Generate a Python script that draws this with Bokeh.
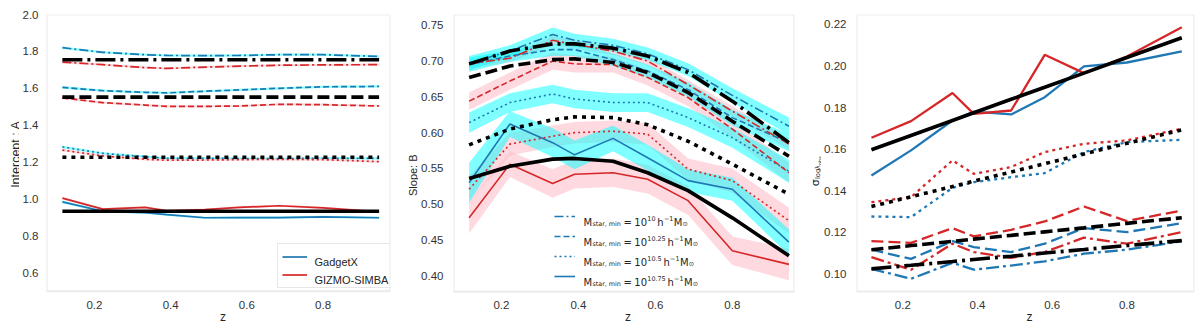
import math
from bokeh.plotting import figure
from bokeh.models import Range1d, FixedTicker, Label, Legend, LegendItem, NumeralTickFormatter, BoxAnnotation
from bokeh.layouts import row
from bokeh.embed import file_html
from bokeh.resources import INLINE

# ---------------- data ----------------
z = [0.116, 0.222, 0.333, 0.390, 0.490, 0.580, 0.685, 0.800, 0.947]

# Panel 1: intercept A
A_gx_10 = [1.820, 1.795, 1.782, 1.778, 1.777, 1.778, 1.782, 1.782, 1.773]
A_gs_10 = [1.742, 1.728, 1.712, 1.708, 1.715, 1.720, 1.725, 1.727, 1.728]
A_fit_10 = [1.755, 1.755, 1.755, 1.755, 1.755, 1.755, 1.755, 1.755, 1.755]
A_gx_1025 = [1.605, 1.587, 1.578, 1.575, 1.584, 1.591, 1.600, 1.608, 1.610]
A_gs_1025 = [1.548, 1.522, 1.509, 1.502, 1.502, 1.504, 1.513, 1.511, 1.504]
A_fit_1025 = [1.552, 1.552, 1.552, 1.552, 1.552, 1.552, 1.552, 1.552, 1.552]
A_gx_105 = [1.282, 1.247, 1.229, 1.220, 1.220, 1.219, 1.219, 1.220, 1.220]
A_gs_105 = [1.265, 1.233, 1.215, 1.210, 1.211, 1.213, 1.215, 1.213, 1.202]
A_fit_105 = [1.226, 1.226, 1.226, 1.226, 1.226, 1.226, 1.226, 1.226, 1.226]
A_gx_1075 = [0.984, 0.933, 0.926, 0.915, 0.898, 0.899, 0.899, 0.903, 0.898]
A_gs_1075 = [1.004, 0.945, 0.954, 0.936, 0.942, 0.954, 0.963, 0.951, 0.930]
A_fit_1075 = [0.933, 0.933, 0.933, 0.933, 0.933, 0.933, 0.933, 0.933, 0.933]
A_err = [0.007, 0.006, 0.006, 0.006, 0.006, 0.006, 0.006, 0.006, 0.006]

# Panel 2: slope B
B_gx_10 = [0.697, 0.714, 0.737, 0.729, 0.722, 0.710, 0.688, 0.652, 0.609]
B_gs_10 = [0.696, 0.704, 0.729, 0.723, 0.714, 0.700, 0.667, 0.630, 0.584]
B_fit_10 = [0.696, 0.714, 0.724, 0.724, 0.718, 0.707, 0.684, 0.644, 0.586]
B_gx_1025 = [0.695, 0.707, 0.716, 0.716, 0.702, 0.686, 0.660, 0.621, 0.586]
B_gs_1025 = [0.644, 0.672, 0.700, 0.696, 0.695, 0.677, 0.649, 0.605, 0.544]
B_fit_1025 = [0.677, 0.693, 0.702, 0.703, 0.698, 0.684, 0.656, 0.616, 0.567]
B_gx_105 = [0.614, 0.642, 0.654, 0.647, 0.642, 0.642, 0.621, 0.593, 0.546]
B_gs_105 = [0.521, 0.584, 0.595, 0.600, 0.602, 0.598, 0.549, 0.533, 0.477]
B_fit_105 = [0.583, 0.605, 0.618, 0.622, 0.621, 0.611, 0.588, 0.556, 0.514]
B_gx_1075 = [0.530, 0.612, 0.586, 0.569, 0.592, 0.565, 0.533, 0.521, 0.447]
B_gs_1075 = [0.481, 0.556, 0.529, 0.542, 0.544, 0.535, 0.505, 0.435, 0.416]
B_fit_1075 = [0.536, 0.553, 0.563, 0.564, 0.560, 0.544, 0.519, 0.481, 0.428]

Be_gx_10 = [0.010, 0.008, 0.010, 0.009, 0.009, 0.009, 0.009, 0.010, 0.012]
Be_gs_10 = [0.006, 0.006, 0.006, 0.006, 0.006, 0.006, 0.006, 0.007, 0.008]
Be_gx_1025 = [0.010, 0.008, 0.009, 0.009, 0.009, 0.009, 0.010, 0.011, 0.012]
Be_gs_1025 = [0.012, 0.012, 0.012, 0.012, 0.011, 0.011, 0.012, 0.013, 0.014]
Be_gx_105 = [0.014, 0.013, 0.013, 0.013, 0.013, 0.013, 0.013, 0.014, 0.016]
Be_gs_105 = [0.018, 0.016, 0.015, 0.015, 0.015, 0.015, 0.015, 0.017, 0.018]
Be_gx_1075 = [0.028, 0.018, 0.020, 0.020, 0.018, 0.018, 0.016, 0.016, 0.018]
Be_gs_1075 = [0.022, 0.018, 0.020, 0.020, 0.020, 0.020, 0.020, 0.020, 0.022]

# Panel 3: scatter sigma
S_gx_10 = [0.1024, 0.0976, 0.1053, 0.1020, 0.1040, 0.1060, 0.1097, 0.1116, 0.1157]
S_gs_10 = [0.1080, 0.1020, 0.1145, 0.1105, 0.1077, 0.1105, 0.1174, 0.1145, 0.1201]
S_fit_10 = [0.1024, 0.1041, 0.1059, 0.1069, 0.1085, 0.1100, 0.1117, 0.1136, 0.1160]
S_gx_1025 = [0.1116, 0.1072, 0.1157, 0.1129, 0.1105, 0.1145, 0.1220, 0.1201, 0.1244]
S_gs_1025 = [0.1157, 0.1149, 0.1220, 0.1180, 0.1212, 0.1252, 0.1324, 0.1254, 0.1305]
S_fit_1025 = [0.1116, 0.1136, 0.1156, 0.1167, 0.1185, 0.1202, 0.1221, 0.1243, 0.1270]
S_gx_105 = [0.1276, 0.1273, 0.1414, 0.1441, 0.1465, 0.1485, 0.1586, 0.1634, 0.1645]
S_gs_105 = [0.1345, 0.1369, 0.1546, 0.1481, 0.1514, 0.1586, 0.1626, 0.1642, 0.1698]
S_fit_105 = [0.1324, 0.1371, 0.1420, 0.1446, 0.1490, 0.1530, 0.1577, 0.1628, 0.1693]
S_gx_1075 = [0.1473, 0.1594, 0.1738, 0.1781, 0.1767, 0.1850, 0.1998, 0.2017, 0.2070]
S_gs_1075 = [0.1655, 0.1735, 0.1870, 0.1770, 0.1786, 0.2054, 0.1966, 0.2046, 0.2187]
S_fit_1075 = [0.1597, 0.1666, 0.1738, 0.1775, 0.1840, 0.1898, 0.1966, 0.2041, 0.2136]

x_ticks = [0.2, 0.4, 0.6, 0.8]
A_ticks = [0.6, 0.8, 1.0, 1.2, 1.4, 1.6, 1.8, 2.0]
B_ticks = [0.40, 0.45, 0.50, 0.55, 0.60, 0.65, 0.70, 0.75]
S_ticks = [0.10, 0.12, 0.14, 0.16, 0.18, 0.20, 0.22]
mass_exps = ["10", "10.25", "10.5", "10.75"]
sim_names = ["GadgetX", "GIZMO-SIMBA"]

# ---------------- styles ----------------
BLUE = "#1f77b4"
RED = "#d62728"
TXT = "#262626"
H = 323
TICK_FONT = "Liberation Sans"
FRAME_C = "#c0c0c0"

def mlabel(p, x, y, text, size, font="DejaVu Sans", angle=0.0, align="left",
           baseline="alphabetic", color=TXT, xu="screen", yu="screen"):
    p.add_layout(Label(x=x, y=y, x_units=xu, y_units=yu, text=text,
                       text_font=font, text_font_size=f"{size}px", text_color=color,
                       text_align=align, text_baseline=baseline, angle=angle))

def make_fig(width, bl, br, bt, xr, yr, yticks, yfmt, data_px, standoff=4):
    # frame reaches the canvas bottom; the data box spans data_px pixels below the top border
    extra = H - bt - data_px
    y0 = yr[0] - extra * (yr[1] - yr[0]) / data_px
    p = figure(width=width, height=H, x_range=Range1d(*xr), y_range=Range1d(y0, yr[1]),
               output_backend="svg", toolbar_location=None, x_axis_type=None,
               min_border_left=bl, min_border_right=br, min_border_top=bt, min_border_bottom=0)
    p.outline_line_color = None
    p.grid.visible = False
    ax = p.yaxis[0]
    ax.axis_line_color = None
    ax.major_tick_line_color = None
    ax.minor_tick_line_color = None
    ax.major_label_text_font = TICK_FONT
    ax.major_label_text_font_size = "11.5px"
    ax.major_label_text_color = "#333333"
    ax.major_label_standoff = standoff
    ax.ticker = FixedTicker(ticks=yticks)
    ax.formatter = NumeralTickFormatter(format=yfmt)
    p.add_layout(BoxAnnotation(left=xr[0], right=xr[1], bottom=yr[0], top=yr[1],
                               fill_alpha=0, line_color=FRAME_C, line_width=2.2))
    for t in x_ticks:
        mlabel(p, t, 19, f"{t:.1f}", 11.5, font=TICK_FONT, align="center",
               color="#333333", xu="data")
    frame_w = width - bl - br
    mlabel(p, frame_w / 2, 7, "z", 12, font=TICK_FONT, align="center")
    return p

def strip(width, height):
    s = figure(width=width, height=height, x_range=Range1d(0, width), y_range=Range1d(0, height),
               output_backend="svg", toolbar_location=None, x_axis_type=None, y_axis_type=None,
               min_border=0)
    s.outline_line_color = None
    s.grid.visible = False
    return s

def band(p, y, e, color, alpha):
    lo = [a - b for a, b in zip(y, e)]
    hi = [a + b for a, b in zip(y, e)]
    p.varea(x=z, y1=lo, y2=hi, fill_color=color, fill_alpha=alpha)

EMW = {'M': .863, 's': .521, 't': .392, 'a': .613, 'r': .411, ',': .318, ' ': .318,
       'm': .974, 'i': .278, 'n': .634, '=': .838, '.': .318, 'h': .634, '−': .838,
       '⊙': .838, 'l': .278, 'o': .612, 'g': .635, 'λ': .592, 'b': .635, 'σ': .635}

def tw(s, size):
    return sum(EMW.get(c, .636) for c in s) * size

def composite(p, x0, y0, pieces, rotated=False, units="screen"):
    cur = 0.0
    for text, size, shift, gap in pieces:
        cur += gap
        if rotated:
            mlabel(p, x0 - shift, y0 + cur, text, size, angle=math.pi / 2, xu=units, yu=units)
        else:
            mlabel(p, x0 + cur, y0 + shift, text, size, xu=units, yu=units)
        cur += tw(text, size)
    return cur

# dash patterns
DD_C, DA_C, DO_C = "9 3 2 3", "6 3", "2 3"
DD_K, DA_K, DO_K = "20 5 3 5", "12 5", "4 5"
DD_C3, DA_C3, DO_C3 = "13 4 3 4", "12 5", "3 4"

# ---------------- panel 1 ----------------
p1 = make_fig(377, 18, 6, 8, (0.0743, 0.9769), (0.5, 2.0001), A_ticks, "0.0", 282, standoff=2)
for ys in [A_gx_10, A_gx_1025, A_gx_105, A_gx_1075]:
    band(p1, ys, A_err, "cyan", 0.45)
for ys in [A_gs_10, A_gs_1025, A_gs_105, A_gs_1075]:
    band(p1, ys, A_err, "pink", 0.6)
leg1_r = []
for ys, dash in [(A_gx_10, DD_C), (A_gx_1025, DA_C), (A_gx_105, DO_C), (A_gx_1075, "solid")]:
    r = p1.line(z, ys, line_color=BLUE, line_width=1.7, line_dash=dash)
leg1_r.append(r)
for ys, dash in [(A_gs_10, DD_C), (A_gs_1025, DA_C), (A_gs_105, DO_C), (A_gs_1075, "solid")]:
    r = p1.line(z, ys, line_color=RED, line_width=1.7, line_dash=dash)
leg1_r.append(r)
for ys, dash in [(A_fit_10, DD_K), (A_fit_1025, DA_K), (A_fit_105, DO_K), (A_fit_1075, "solid")]:
    p1.line(z, ys, line_color="black", line_width=3.6, line_dash=dash)

leg1 = Legend(items=[LegendItem(label=" ", renderers=[r]) for r in leg1_r],
              location=(231, 35), padding=4, spacing=1, glyph_width=25, glyph_height=17,
              label_height=17, label_width=86, label_standoff=0, margin=0,
              label_text_font_size="1px",
              border_line_color="#d0d0d0", border_line_width=1,
              background_fill_alpha=0)
p1.add_layout(leg1)
for name, yc in zip(sim_names, [65.5, 47.5]):
    mlabel(p1, 268, yc - 4, name, 11, font=TICK_FONT)

# ---------------- panel 2 ----------------
p2 = make_fig(380, 27, 4, 13, (0.0754, 0.9615), (0.378, 0.765), B_ticks, "0.00", 278)
for ys, e in [(B_gs_10, Be_gs_10), (B_gs_1025, Be_gs_1025), (B_gs_105, Be_gs_105), (B_gs_1075, Be_gs_1075)]:
    band(p2, ys, e, "pink", 0.6)
for ys, e in [(B_gx_10, Be_gx_10), (B_gx_1025, Be_gx_1025), (B_gx_105, Be_gx_105), (B_gx_1075, Be_gx_1075)]:
    band(p2, ys, e, "cyan", 0.5)
leg_r = []
for ys, dash in [(B_gx_10, DD_C), (B_gx_1025, DA_C), (B_gx_105, DO_C), (B_gx_1075, "solid")]:
    leg_r.append(p2.line(z, ys, line_color=BLUE, line_width=1.6, line_dash=dash))
for ys, dash in [(B_gs_10, DD_C), (B_gs_1025, DA_C), (B_gs_105, DO_C), (B_gs_1075, "solid")]:
    p2.line(z, ys, line_color=RED, line_width=1.6, line_dash=dash)
for ys, dash in [(B_fit_10, DD_K), (B_fit_1025, DA_K), (B_fit_105, DO_K), (B_fit_1075, "solid")]:
    p2.line(z, ys, line_color="black", line_width=3.6, line_dash=dash)

leg2 = Legend(items=[LegendItem(label=" ", renderers=[r]) for r in leg_r],
              location=(101, 38), padding=0, spacing=2, glyph_width=21, glyph_height=18,
              label_height=18, label_width=1, label_standoff=0, margin=0,
              label_text_font_size="1px", border_line_color=None, background_fill_alpha=0)
p2.add_layout(leg2)
F, S = 10, 6.4
for i, ex in enumerate(mass_exps):
    yb = 101.5 - 20 * i
    pieces = [("M", F, 0, 0), ("star, min", S, -2, 0.3), ("=", F, 0, 2.5), ("10", F, 0, 2.5),
              (ex, S, 4, 0.3), ("h", F, 0, 1.8), ("−1", S, 4, 0.3), ("M", F, 0, 0.4), ("⊙", S, -2, 0.2)]
    composite(p2, 130, yb, pieces)

# ---------------- panel 3 ----------------
p3 = make_fig(379, 27, 6, 14, (0.076, 0.981), (0.0915, 0.2248), S_ticks, "0.00", 277)
for ys, dash in [(S_gx_10, DD_C3), (S_gx_1025, DA_C3), (S_gx_105, DO_C3), (S_gx_1075, "solid")]:
    p3.line(z, ys, line_color=BLUE, line_width=2.3, line_dash=dash)
for ys, dash in [(S_gs_10, DD_C3), (S_gs_1025, DA_C3), (S_gs_105, DO_C3), (S_gs_1075, "solid")]:
    p3.line(z, ys, line_color=RED, line_width=2.3, line_dash=dash)
for ys, dash in [(S_fit_10, DD_K), (S_fit_1025, DA_K), (S_fit_105, DO_K), (S_fit_1075, "solid")]:
    p3.line(z, ys, line_color="black", line_width=3.6, line_dash=dash)

# ---------------- y-axis title strips ----------------
sA = strip(19, H)
mlabel(sA, 15, H - 146, "Intercept : A", 12.5, font=TICK_FONT, angle=math.pi / 2,
       align="center", xu="data", yu="data")
sB = strip(22, H)
mlabel(sB, 16.5, H - 168, "Slope: B", 11, font=TICK_FONT, angle=math.pi / 2,
       align="center", xu="data", yu="data")
sC = strip(23, H)
sig_pieces = [("σ", 11, 0, 0), ("log", 6.8, -2.3, 0.4), ("λ", 6.8, -2.3, 0.0), ("obs", 5, -4, 0.2)]
L = sum(tw(t, s) + g for t, s, _, g in sig_pieces)
composite(sC, 17, (H - 164) - L / 2, sig_pieces, rotated=True, units="data")

layout = row(sA, p1, sB, p2, sC, p3, spacing=0)
open("out.html", "w").write(file_html(layout, INLINE))
